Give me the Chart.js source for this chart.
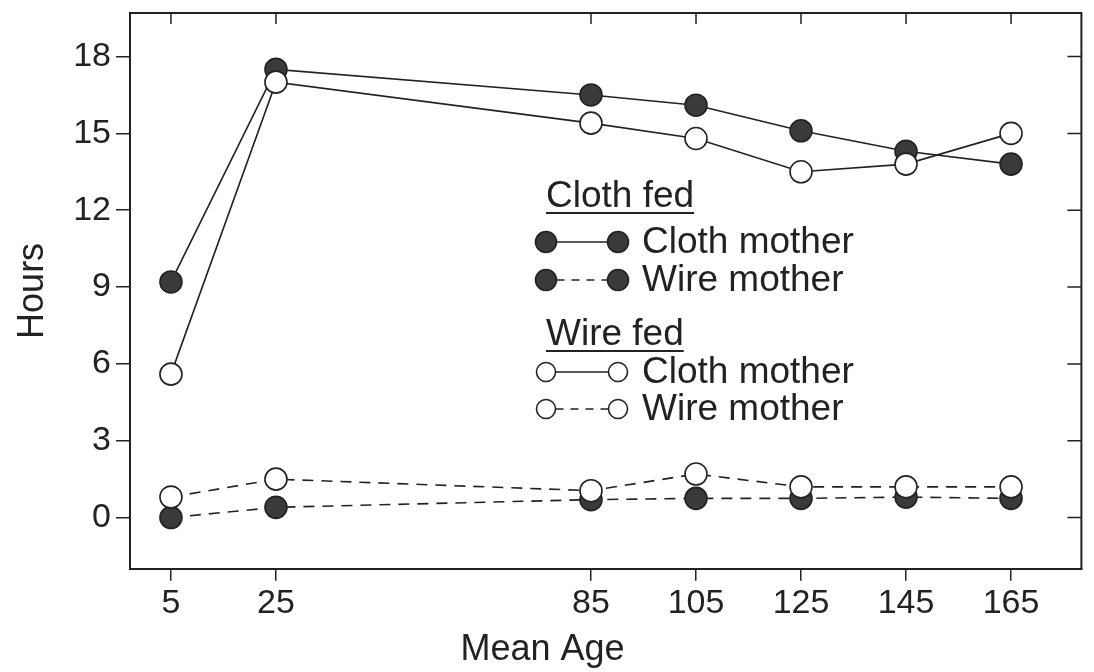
<!DOCTYPE html>
<html>
<head>
<meta charset="utf-8">
<script src="https://cdn.jsdelivr.net/npm/chart.js@4.4.1/dist/chart.umd.min.js"></script>
<style>
  html, body { margin: 0; padding: 0; background: #ffffff; }
  #wrap { width: 1094px; height: 672px; }
</style>
</head>
<body>
<div id="wrap"><canvas id="c" width="1094" height="672"></canvas></div>
<script>
// ---- data ----
const ages = [5, 25, 85, 105, 125, 145, 165];
const clothFedClothMother = [9.2, 17.5, 16.5, 16.1, 15.1, 14.3, 13.8];
const clothFedWireMother  = [0.0, 0.4, 0.7, 0.75, 0.75, 0.8, 0.75];
const wireFedClothMother  = [5.6, 17.0, 15.4, 14.8, 13.5, 13.8, 15.0];
const wireFedWireMother   = [0.8, 1.5, 1.05, 1.7, 1.2, 1.2, 1.2];
const xTickValues = [5, 25, 85, 105, 125, 145, 165];
const yTickValues = [0, 3, 6, 9, 12, 15, 18];
const groupTitles = ['Cloth fed', 'Wire fed'];
const itemLabels = ['Cloth mother', 'Wire mother'];

const INK = '#222222';
const DOT = '#3a3a3a';
const FONT = "'Liberation Sans', Arial, Helvetica, sans-serif";
Chart.defaults.font.family = FONT;
Chart.defaults.color = INK;

const pts = arr => ages.map((a, i) => ({ x: a, y: arr[i] }));

function series(label, short, arr, filled, dashed, order) {
  return {
    label: label,
    shortLabel: short,
    data: pts(arr),
    borderColor: INK,
    borderWidth: 1.6,
    borderDash: dashed ? [11, 8] : [],
    pointRadius: 11,
    pointHoverRadius: 11,
    pointBackgroundColor: filled ? DOT : '#ffffff',
    pointBorderColor: INK,
    pointBorderWidth: 1.6,
    fill: false,
    tension: 0,
    order: order
  };
}

const datasets = [
  series('Cloth fed – Cloth mother', itemLabels[0], clothFedClothMother, true, false, 1),
  series('Cloth fed – Wire mother', itemLabels[1], clothFedWireMother, true, true, 1),
  series('Wire fed – Cloth mother', itemLabels[0], wireFedClothMother, false, false, 0),
  series('Wire fed – Wire mother', itemLabels[1], wireFedWireMother, false, true, 0)
];

// frame on top/right with inward tick marks, placed through the scales
const framePlugin = {
  id: 'frameTicks',
  beforeDatasetsDraw(chart) {
    const { ctx, chartArea: a, scales } = chart;
    ctx.save();
    ctx.strokeStyle = INK;
    ctx.lineWidth = 2;
    ctx.beginPath();
    ctx.moveTo(a.left, a.top); ctx.lineTo(a.right, a.top); ctx.lineTo(a.right, a.bottom);
    ctx.stroke();
    ctx.lineWidth = 1.5;
    ctx.beginPath();
    xTickValues.forEach(v => {
      const px = scales.x.getPixelForValue(v);
      ctx.moveTo(px, a.top); ctx.lineTo(px, a.top + 11);
    });
    yTickValues.forEach(v => {
      const py = scales.y.getPixelForValue(v);
      ctx.moveTo(a.right, py); ctx.lineTo(a.right - 14, py);
    });
    ctx.stroke();
    ctx.restore();
  }
};

// grouped legend drawn inside the plot
const groupLegendPlugin = {
  id: 'groupLegend',
  afterDraw(chart, args, opts) {
    const { ctx } = chart;
    ctx.save();
    ctx.fillStyle = INK;
    ctx.strokeStyle = INK;
    ctx.font = opts.fontSize + 'px ' + FONT;
    opts.groups.forEach((g, gi) => {
      ctx.textAlign = 'left';
      ctx.textBaseline = 'alphabetic';
      ctx.fillStyle = INK;
      ctx.fillText(groupTitles[gi], opts.x, g.titleBaseline);
      const w = ctx.measureText(groupTitles[gi]).width;
      ctx.lineWidth = 1.8;
      ctx.setLineDash([]);
      ctx.beginPath();
      ctx.moveTo(opts.x, g.titleBaseline + 6);
      ctx.lineTo(opts.x + w, g.titleBaseline + 6);
      ctx.stroke();
      g.items.forEach((dsIndex, k) => {
        const ds = chart.data.datasets[dsIndex];
        const y = g.rowYs[k];
        const r = g.markerR;
        const x1 = opts.markerX1, x2 = opts.markerX2;
        ctx.lineWidth = ds.borderWidth;
        ctx.setLineDash(ds.borderDash.length ? [8, 7] : []);
        ctx.beginPath();
        ctx.moveTo(x1 + r, y); ctx.lineTo(x2 - r, y);
        ctx.stroke();
        ctx.setLineDash([]);
        [x1, x2].forEach(cx => {
          ctx.beginPath();
          ctx.arc(cx, y, r, 0, Math.PI * 2);
          ctx.fillStyle = ds.pointBackgroundColor;
          ctx.fill();
          ctx.lineWidth = ds.pointBorderWidth;
          ctx.stroke();
        });
        ctx.fillStyle = INK;
        ctx.textBaseline = 'middle';
        ctx.fillText(ds.shortLabel, opts.textX, y + 1);
      });
    });
    ctx.restore();
  }
};

new Chart(document.getElementById('c'), {
  type: 'line',
  data: { datasets: datasets },
  plugins: [framePlugin, groupLegendPlugin],
  options: {
    responsive: false,
    animation: false,
    layout: { padding: { left: 0, right: 9, top: 13, bottom: 0 } },
    plugins: {
      legend: { display: false },
      tooltip: { enabled: false },
      title: {
        display: true,
        position: 'bottom',
        text: 'Mean Age',
        color: INK,
        font: { size: 36, weight: 'normal', family: FONT, lineHeight: 1.2 },
        padding: { top: 0, bottom: 0 }
      },
      groupLegend: {
        fontSize: 37,
        x: 546,
        markerX1: 546,
        markerX2: 618,
        textX: 642,
        groups: [
          { titleBaseline: 207, rowYs: [242, 280], items: [0, 1], markerR: 10.5 },
          { titleBaseline: 345, rowYs: [372, 409], items: [2, 3], markerR: 9.5 }
        ]
      }
    },
    scales: {
      x: {
        type: 'linear',
        position: 'bottom',
        min: -2.8,
        max: 178.4,
        afterBuildTicks: s => { s.ticks = xTickValues.map(v => ({ value: v })); },
        afterFit: s => { s.height = 60; s.paddingLeft = 0; s.paddingRight = 0; },
        ticks: {
          color: INK,
          font: { size: 34, family: FONT },
          padding: 2,
          maxRotation: 0,
          autoSkip: false
        },
        grid: {
          drawOnChartArea: false,
          drawTicks: true,
          tickLength: 12,
          color: INK,
          tickColor: INK,
          lineWidth: 1.5
        },
        border: { display: true, color: INK, width: 2 }
      },
      y: {
        type: 'linear',
        position: 'left',
        min: -2,
        max: 19.7,
        afterBuildTicks: s => { s.ticks = yTickValues.map(v => ({ value: v })); },
        afterFit: s => { s.width = 130; s.paddingTop = 0; s.paddingBottom = 0; },
        ticks: {
          color: INK,
          font: { size: 34, family: FONT },
          padding: 5,
          autoSkip: false
        },
        grid: {
          drawOnChartArea: false,
          drawTicks: true,
          tickLength: 14,
          color: INK,
          tickColor: INK,
          lineWidth: 1.5
        },
        border: { display: true, color: INK, width: 2 },
        title: {
          display: true,
          text: 'Hours',
          color: INK,
          font: { size: 36, family: FONT, lineHeight: 1.2 },
          padding: { top: 11, bottom: 0 }
        }
      }
    }
  }
});
</script>
</body>
</html>
